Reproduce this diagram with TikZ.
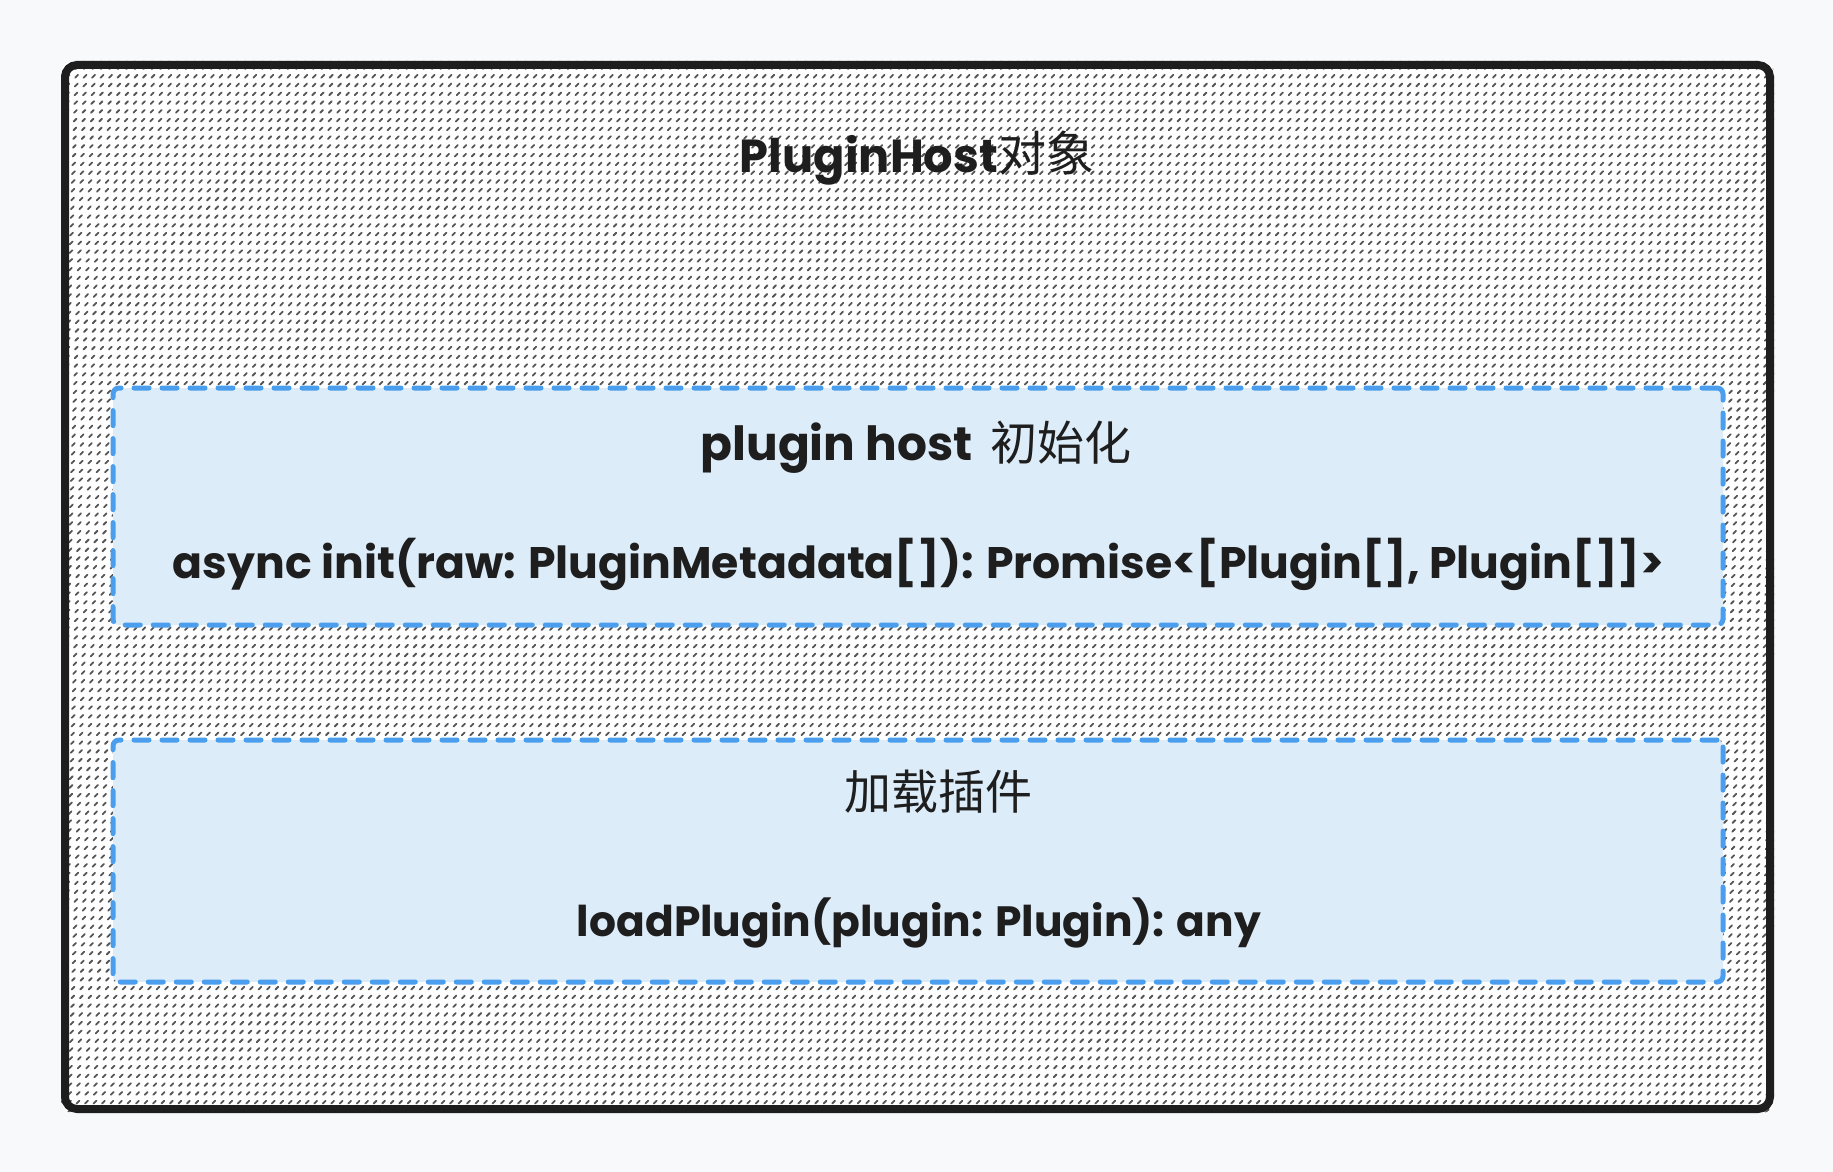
\documentclass[tikz,border=0pt]{standalone}
\usepackage{fontspec}
\usepackage{graphicx}
\newfontfamily\hand{Poppins}
\newfontfamily\cjk{Noto Sans CJK SC}
\definecolor{pagebg}{HTML}{F8F9FB}
\definecolor{ink}{HTML}{1E1E1E}
\definecolor{hatch}{HTML}{555555}
\definecolor{bluedash}{HTML}{4A9EED}
\definecolor{bluefill}{HTML}{DDECF9}
\tikzset{
  outerbox/.style={draw=ink, line width=4pt, rounded corners=6pt, inner sep=0pt},
  groupbox/.style={draw=bluedash, fill=bluefill, line width=2.5pt, line cap=round,
    dash pattern=on 7.5pt off 6.5pt, rounded corners=3pt, inner sep=0pt,
    minimum width=805pt},
  hatchline/.style={draw=hatch, line width=0.9pt, line cap=round, dash pattern=on 2pt off 4.2pt},
  label/.style={anchor=base, inner sep=0pt, text=ink},
  cjkfont/.style={font=\cjk\fontsize{23.5pt}{28pt}\selectfont}
}
\begin{document}
\begin{tikzpicture}[x=0.5pt,y=-0.5pt]
\fill[pagebg] (0,0) rectangle (1833,1172);
\useasboundingbox (0,0) rectangle (1833,1172);
\path (917.5,587) node[outerbox, draw=none, minimum width=852.5pt, minimum height=522pt] (outer) {};
\begin{scope}
  \clip[rounded corners=6pt] (outer.south west) rectangle (outer.north east);
  \fill[white] (0,0) rectangle (1833,1172);
  \foreach \c in {0,8.49,...,3050} {
    \draw[hatchline] (\c-1200,1200) -- (\c,0);
  }
\end{scope}
\node[outerbox, minimum width=852.5pt, minimum height=522pt] at (917.5,587) (outerframe) {};
\node[groupbox, minimum height=118.5pt] at (918,506.5) (init) {};
\node[groupbox, minimum height=121pt] at (918,861) (load) {};
\node[label] at (917,172) (title) {\resizebox{129pt}{!}{\hand\bfseries PluginHost}{\cjk\fontsize{24pt}{28pt}\selectfont 对象}};
\node[label] at (916,460) (inittitle) {\resizebox{136pt}{!}{\hand\bfseries plugin host}\hspace{9pt}{\cjk\fontsize{23.5pt}{28pt}\selectfont 初始化}};
\node[label] at (918.5,578) (initsig) {\resizebox{745.5pt}{!}{\hand\bfseries async init(raw: PluginMetadata[]): Promise<[Plugin[], Plugin[]]>}};
\node[label, cjkfont] at (938.5,809) (loadtitle) {加载插件};
\node[label] at (919,936) (loadsig) {\resizebox{342pt}{!}{\hand\bfseries loadPlugin(plugin: Plugin): any}};
\end{tikzpicture}
\end{document}
